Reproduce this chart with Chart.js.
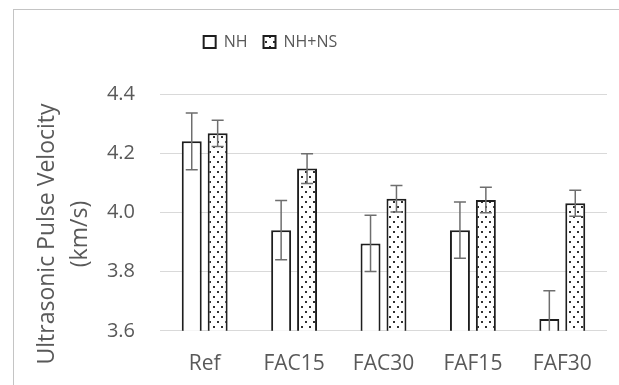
<!DOCTYPE html>
<html>
<head>
<meta charset="utf-8">
<script src="https://cdn.jsdelivr.net/npm/chart.js@4.4.0/dist/chart.umd.min.js"></script>
<style>
  html, body { margin: 0; padding: 0; background: #fff; }
  #wrap { position: relative; width: 619px; height: 385px; overflow: hidden; }
  #frame { position: absolute; left: 13px; top: 9px; width: 700px; height: 500px;
           border: 1px solid #c4c4c4; box-sizing: border-box; }
  canvas { position: absolute; left: 0; top: 0; }
</style>
</head>
<body>
<div id="wrap">
  <div id="frame"></div>
  <canvas id="c" width="619" height="385"></canvas>
</div>
<script>
// Mix categories
const categories = ['Ref', 'FAC15', 'FAC30', 'FAF15', 'FAF30'];

// Mean pulse velocity (km/s) and standard deviation per mix
const nhValues   = [4.24, 3.94, 3.895, 3.94, 3.64];
const nhErrors   = [0.096, 0.10, 0.095, 0.095, 0.095];
const nhnsValues = [4.267, 4.148, 4.046, 4.042, 4.031];
const nhnsErrors = [0.044, 0.05, 0.045, 0.043, 0.044];

// Value axis ticks
const yTicks = [3.6, 3.8, 4.0, 4.2, 4.4];

const titleLines = ['Ultrasonic Pulse Velocity', '(km/s)'];
const textColor = '#595959';
const fontFamily = '"Open Sans", "Noto Sans", sans-serif';

const canvas = document.getElementById('c');
const ctx = canvas.getContext('2d');

// Staggered dot fill for the NH+NS series
function dotPattern() {
  const tile = document.createElement('canvas');
  tile.width = 8; tile.height = 10;
  const g = tile.getContext('2d');
  g.fillStyle = '#ffffff';
  g.fillRect(0, 0, 8, 10);
  g.fillStyle = '#303030';
  g.fillRect(1, 1, 2, 2);
  g.fillRect(5, 6, 2, 2);
  return ctx.createPattern(tile, 'repeat');
}

// Error bars drawn from each bar's position on the value scale
const errorBars = {
  id: 'errorBars',
  afterDatasetsDraw(chart) {
    const y = chart.scales.y;
    const a = chart.chartArea;
    const c = chart.ctx;
    c.save();
    c.beginPath();
    c.rect(a.left, a.top - 20, a.right - a.left, a.bottom - a.top + 20);
    c.clip();
    c.strokeStyle = '#6e6e6e';
    c.lineWidth = 1.5;
    chart.data.datasets.forEach((ds, di) => {
      const meta = chart.getDatasetMeta(di);
      meta.data.forEach((bar, i) => {
        const v = ds.data[i], e = ds.errors[i];
        const top = y.getPixelForValue(v + e);
        const bot = y.getPixelForValue(v - e);
        const half = 6;
        c.beginPath();
        c.moveTo(bar.x, top); c.lineTo(bar.x, bot);
        c.moveTo(bar.x - half, top); c.lineTo(bar.x + half, top);
        c.moveTo(bar.x - half, bot); c.lineTo(bar.x + half, bot);
        c.stroke();
      });
    });
    c.restore();
  }
};

// Two-line rotated axis title
const axisTitle = {
  id: 'axisTitle',
  afterDraw(chart) {
    const c = chart.ctx;
    c.save();
    c.fillStyle = textColor;
    c.font = '23px ' + fontFamily;
    c.textAlign = 'center';
    c.textBaseline = 'middle';
    const cy = 234;
    [47, 80].forEach((x, k) => {
      c.save();
      c.translate(x, cy);
      c.rotate(-Math.PI / 2);
      c.fillText(titleLines[k], 0, 0);
      c.restore();
    });
    c.restore();
  }
};

// Extra room between the legend and the plot, and legend placed left of centre
const legendLayout = {
  id: 'legendLayout',
  beforeInit(chart) {
    const fit = chart.legend.fit;
    chart.legend.fit = function () {
      fit.call(this);
      this.height += 34;
    };
  },
  afterLayout(chart) {
    chart.legend.left -= 33;
    chart.legend.right -= 33;
  }
};

new Chart(canvas, {
  type: 'bar',
  data: {
    labels: categories,
    datasets: [
      {
        label: 'NH',
        data: nhValues,
        errors: nhErrors,
        backgroundColor: '#ffffff',
        borderColor: '#1e1e1e',
        borderWidth: 2
      },
      {
        label: 'NH+NS',
        data: nhnsValues,
        errors: nhnsErrors,
        backgroundColor: dotPattern(),
        borderColor: '#1e1e1e',
        borderWidth: 2
      }
    ]
  },
  options: {
    responsive: false,
    animation: false,
    layout: { padding: { top: 18, right: 12, bottom: -13, left: 0 } },
    datasets: {
      bar: { categoryPercentage: 0.58, barPercentage: 0.77 }
    },
    plugins: {
      legend: {
        position: 'top',
        labels: {
          boxWidth: 12,
          boxHeight: 12,
          padding: 16,
          color: textColor,
          font: { family: fontFamily, size: 16 }
        }
      },
      tooltip: { enabled: false }
    },
    scales: {
      x: {
        grid: { display: false, drawTicks: false },
        border: { display: false },
        ticks: { color: textColor, padding: 21, font: { family: fontFamily, size: 21 } }
      },
      y: {
        min: 3.6,
        max: 4.4,
        afterBuildTicks(scale) { scale.ticks = yTicks.map(v => ({ value: v })); },
        afterFit(scale) { scale.width = 160; },
        grid: { color: '#d9d9d9', lineWidth: 1, drawTicks: false },
        border: { display: false },
        ticks: {
          color: textColor,
          padding: 25,
          font: { family: fontFamily, size: 20 },
          callback: v => v.toFixed(1)
        }
      }
    }
  },
  plugins: [legendLayout, errorBars, axisTitle]
});
</script>
</body>
</html>
